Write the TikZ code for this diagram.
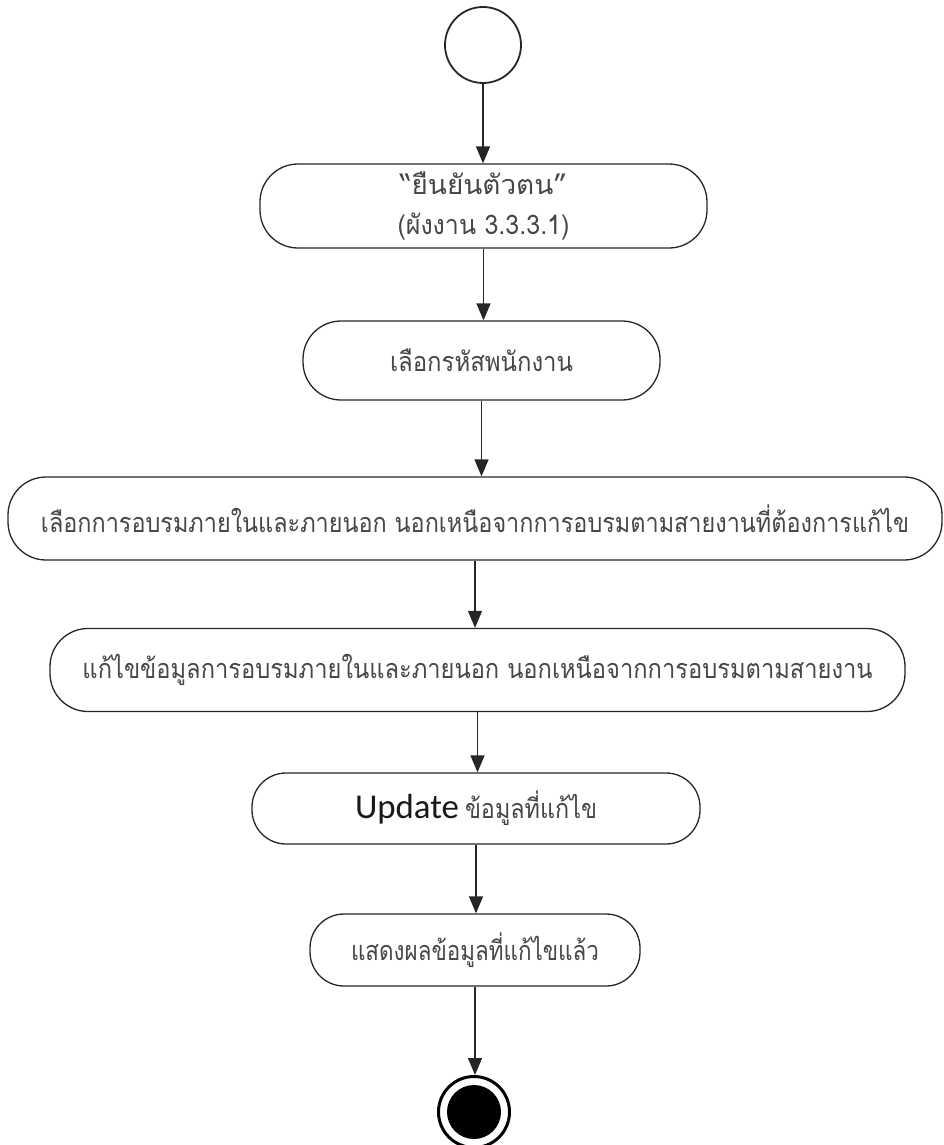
\documentclass[tikz,border=0pt]{standalone}
\usepackage{fontspec}
\usepackage{graphicx}
\newfontfamily\thaifont[Script=Thai]{Loma}
\newfontfamily\latinfont{Carlito}
\usetikzlibrary{arrows.meta}

\tikzset{
  act/.style={draw=black!85, line width=1.3pt, rounded corners=38pt, inner sep=0pt,
    fill=white, text=black!72, align=center,
    font=\thaifont\fontsize{27}{40}\selectfont},
  flow/.style={draw=black!85, line width=1.4pt, -{Triangle[length=17pt,width=14pt]}},
  startnode/.style={circle, draw=black!85, line width=1.8pt, minimum size=76pt, inner sep=0pt},
  endnode/.style={circle, draw=black, line width=3pt, minimum size=71pt, inner sep=0pt},
}
% set a text run to a given width, keeping its natural height
\newcommand\tw[2]{\resizebox{#1}{\height}{#2}}

\begin{document}
\begin{tikzpicture}[x=1pt, y=-1pt]
  \useasboundingbox (0,0) rectangle (944,1145);

  \node[startnode] (start) at (483,45) {};

  \node[act, minimum width=447pt, minimum height=84pt] (b1) at (483.5,206)
    {\tw{167pt}{“ยืนยันตัวตน”}\\\tw{172pt}{(ผังงาน 3.3.3.1)}};
  \node[act, minimum width=357pt, minimum height=79pt] (b2) at (481.5,360.5)
    {\tw{183pt}{เลือกรหัสพนักงาน}};
  \node[act, minimum width=934pt, minimum height=83pt] (b3) at (475,518.5)
    {\tw{868pt}{เลือกการอบรมภายในและภายนอก นอกเหนือจากการอบรมตามสายงานที่ต้องการแก้ไข}};
  \node[act, minimum width=855pt, minimum height=83pt] (b4) at (477.5,670)
    {\tw{790pt}{แก้ไขข้อมูลการอบรมภายในและภายนอก นอกเหนือจากการอบรมตามสายงาน}};
  \node[act, rounded corners=34pt, minimum width=448pt, minimum height=71pt] (b5) at (476,808.5)
    {{\latinfont\color{black!90}\resizebox{104pt}{!}{Update}}\hspace{6pt}\tw{132pt}{ข้อมูลที่แก้ไข}};
  \node[act, rounded corners=34pt, minimum width=330pt, minimum height=72pt] (b6) at (475,950)
    {\tw{248pt}{แสดงผลข้อมูลที่แก้ไขแล้ว}};

  \node[endnode] (end) at (474,1112) {};
  \fill[black] (end) circle (27pt);

  \draw[flow] (start.south) -- (start.south |- b1.north);
  \draw[flow] (b1.south) -- (b1.south |- b2.north);
  \draw[flow] (b2.south) -- (b2.south |- b3.north);
  \draw[flow] (b3.south) -- (b3.south |- b4.north);
  \draw[flow] (b4.south) -- (b4.south |- b5.north);
  \draw[flow] (b5.south) -- (b5.south |- b6.north);
  \draw[flow] (b6.south) -- (b6.south |- end.north);
\end{tikzpicture}
\end{document}
